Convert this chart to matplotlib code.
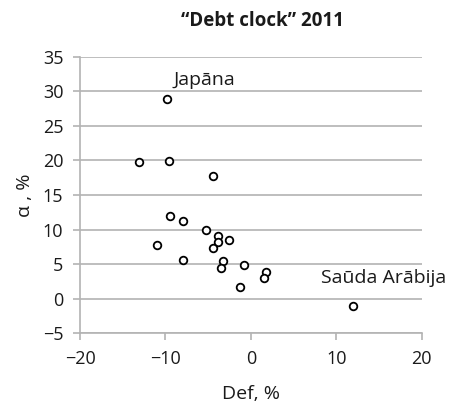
import matplotlib
matplotlib.use("Agg")
import matplotlib.pyplot as plt

deficit = [-9.8, -13.1, -9.6, -4.4, -9.5, -7.9, -5.3, -3.8, -3.8, -2.6, -4.4,
           -11.0, -8.0, -3.3, -3.5, -0.8, 1.8, 1.5, -1.3, 12.0]
alpha = [28.9, 19.7, 19.9, 17.8, 11.9, 11.3, 9.9, 9.1, 8.2, 8.5, 7.3,
         7.8, 5.6, 5.4, 4.5, 4.9, 3.9, 3.0, 1.7, -1.05]
label_names = ["Japāna", "Saūda Arābija"]
label_points = [(-9.8, 28.9), (12.0, -1.05)]
x_ticks = [-20, -10, 0, 10, 20]
y_ticks = [-5, 0, 5, 10, 15, 20, 25, 30, 35]

plt.rcParams['font.family'] = ['Open Sans', 'DejaVu Sans']
grey = "#b3b3b3"
ink = "#1a1a1a"
fs = 13
fs_text = 14

fig = plt.figure(figsize=(4.49, 4.05), dpi=100)
ax = fig.add_axes([80 / 449, 1 - 333.3 / 405, (421.7 - 80) / 449, (333.3 - 56.7) / 405])

ax.scatter(deficit, alpha, s=30, facecolors="white", edgecolors="black",
           linewidths=1.3, zorder=3, clip_on=False)

ax.set_xlim(-20, 20)
ax.set_ylim(-5, 35)
ax.set_xticks(x_ticks)
ax.set_yticks(y_ticks)
ax.set_xticklabels([str(t).replace("-", "\u2212") for t in x_ticks])
ax.set_yticklabels([str(t).replace("-", "\u2212") for t in y_ticks])
ax.yaxis.grid(True, color=grey, linewidth=1.2)
ax.set_axisbelow(True)
for s in ("top", "right"):
    ax.spines[s].set_visible(False)
for s in ("left", "bottom"):
    ax.spines[s].set_color(grey)
    ax.spines[s].set_linewidth(1.2)
ax.tick_params(axis="both", colors=grey, length=5, width=1.2, labelsize=fs,
               labelcolor=ink, pad=7)

ax.annotate(label_names[0], label_points[0], xytext=(4.5, 10), textcoords="offset points",
            fontsize=fs_text, color=ink, ha="left", va="baseline")
ax.annotate(label_names[1], label_points[1], xytext=(-23.5, 16.5), textcoords="offset points",
            fontsize=fs_text, color=ink, ha="left", va="baseline", annotation_clip=False)

ax.set_xlabel("Def, %", fontsize=fs_text, color=ink, labelpad=12)
ax.set_ylabel("α , %", fontsize=fs_text, color=ink, labelpad=6)
fig.text(262 / 449, 1 - 21 / 405, "\u201cDebt clock\u201d 2011", fontsize=13.5,
         fontweight="bold", ha="center", va="center", color=ink)

fig.savefig("out.png", dpi=100)
